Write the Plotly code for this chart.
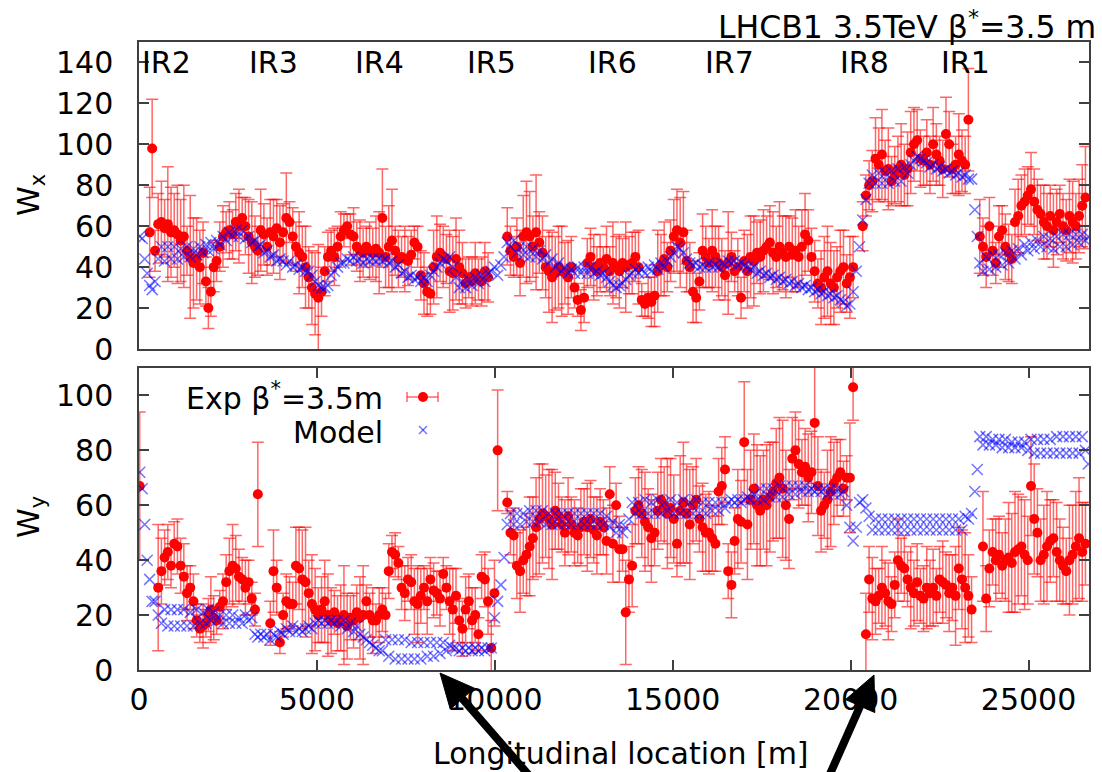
import plotly.graph_objects as go

# ---------------- data ----------------
s_pos = [
    20, 90, 160, 230, 300, 370, 450, 540, 630, 720,
    810, 900, 990, 1080, 1170, 1260, 1350, 1440, 1530, 1620,
    1710, 1800, 1880, 1950, 2020, 2100, 2180, 2270, 2360, 2450,
    2540, 2630, 2720, 2810, 2900, 2990, 3080, 3170, 3260, 3340,
    3420, 3510, 3600, 3690, 3780, 3870, 3960, 4050, 4140, 4230,
    4320, 4410, 4500, 4590, 4680, 4770, 4860, 4950, 5040, 5130,
    5220, 5310, 5400, 5490, 5580, 5670, 5760, 5850, 5940, 6030,
    6120, 6210, 6300, 6390, 6480, 6570, 6660, 6750, 6840, 6930,
    7020, 7110, 7200, 7290, 7380, 7470, 7560, 7650, 7740, 7830,
    7920, 8010, 8100, 8190, 8280, 8370, 8460, 8550, 8640, 8730,
    8820, 8910, 9000, 9090, 9180, 9270, 9360, 9450, 9540, 9630,
    9720, 9810, 9900, 9990, 10080, 10170, 10260, 10350, 10440, 10530,
    10620, 10710, 10800, 10890, 10980, 11070, 11160, 11250, 11340, 11430,
    11520, 11610, 11700, 11790, 11880, 11970, 12060, 12150, 12240, 12330,
    12420, 12510, 12600, 12690, 12780, 12870, 12960, 13050, 13140, 13230,
    13320, 13410, 13500, 13590, 13680, 13770, 13860, 13950, 14040, 14130,
    14220, 14310, 14400, 14490, 14580, 14670, 14760, 14850, 14940, 15030,
    15120, 15210, 15300, 15390, 15480, 15570, 15660, 15750, 15840, 15930,
    16020, 16110, 16200, 16290, 16380, 16470, 16560, 16650, 16740, 16830,
    16920, 17010, 17100, 17190, 17280, 17370, 17460, 17550, 17640, 17730,
    17820, 17910, 18000, 18090, 18180, 18270, 18360, 18450, 18540, 18630,
    18720, 18810, 18900, 18990, 19080, 19170, 19260, 19350, 19440, 19530,
    19620, 19710, 19800, 19890, 19980, 20070, 20160, 20250, 20340, 20430,
    20520, 20610, 20700, 20790, 20880, 20970, 21060, 21150, 21240, 21330,
    21420, 21510, 21600, 21690, 21780, 21870, 21960, 22050, 22140, 22230,
    22320, 22410, 22500, 22590, 22680, 22770, 22860, 22950, 23040, 23130,
    23220, 23310, 23400, 23490, 23560, 23630, 23720, 23810, 23900, 23990,
    24080, 24170, 24260, 24350, 24440, 24530, 24620, 24710, 24800, 24890,
    24980, 25070, 25160, 25250, 25340, 25430, 25520, 25610, 25700, 25790,
    25880, 25970, 26060, 26150, 26240, 26330, 26420, 26510, 26600, 26680,
]

N = None

model_wx = [
    55, 54, 44, 37, 31, 29, 33, 44, 50, 43,
    50, 44, 50, 44, 49, 45, 50, 45, 49, 46,
    50, 47, 51, 48, 52, 49, 53, 51, 55, 53,
    57, 55, 58, 55, 58, 54, 55, 52, 53, 50,
    51, 47, 48, 45, 46, 43, 44, 43, 41, 43,
    40, 41, 39, 40, 38, 38, 36, 33, 31, 30,
    30, 31, 36, 38, 40, 42, 42, 44, 43, 45,
    43, 44, 42, 44, 43, 44, 43, 44, 43, 44,
    42, 43, 40, 41, 37, 38, 35, 36, 34, 35,
    33, 35, 33, 36, 38, 40, 42, 44, 43, 45,
    40, 35, 30, 33, 30, 34, 31, 35, 32, 36,
    33, 37, 38, 40, 36, 41, 45, 52, 50, 53,
    47, 50, 46, 50, 45, 49, 45, 48, 44, 46,
    42, 44, 40, 42, 38, 40, 37, 39, 37, 40,
    37, 40, 37, 40, 37, 38, 36, 37, 35, 33,
    31, 30, 31, 32, 34, 36, 37, 39, 37, 39,
    37, 40, 38, 41, 39, 42, 40, 43, 45, 47,
    50, 49, 47, 44, 42, 41, 42, 40, 41, 40,
    42, 40, 41, 40, 42, 41, 43, 42, 43, 41,
    42, 41, 40, 39, 40, 37, 38, 36, 37, 35,
    36, 34, 35, 33, 34, 32, 33, 31, 32, 30,
    31, 29, 30, 28, 29, 27, 28, 26, 27, 25,
    26, 24, 23, 21, 22, 28, 38, 50, 63, 73,
    81, 85, 81, 86, 81, 86, 81, 87, 82, 88,
    82, 89, 86, 90, 92, 94, 93, 92, 91, 89,
    90, 88, 89, 87, 88, 86, 87, 85, 86, 84,
    85, 83, 83, 68, 55, 42, 38, 45, 39, 46,
    40, 46, 41, 47, 42, 48, 44, 49, 46, 51,
    48, 52, 49, 53, 50, 55, 50, 54, 49, 55,
    50, 56, 50, 56, 51, 56, 52, 56, 53, 55,
]

exp_wx = [
    N, N, N, N, 57, 98, 48, 61, 62, 59,
    61, 57, 58, 56, 53, 55, 48, 45, 42, 44,
    40, 47, 33, 20, 28, 40, 43, 50, 55, 57,
    58, 56, 62, 60, 64, 60, 55, 52, 50, 48,
    58, 56, 50, 57, 55, 59, 52, 57, 64, 62,
    55, 50, 47, 45, 40, 35, 30, 27, 25, 28,
    38, 45, 48, 45, 50, 55, 58, 60, 56, 55,
    50, 48, 47, 50, 48, 47, 49, 47, 64, 45,
    50, 53, 48, 44, 45, 44, 43, 46, 52, 50,
    36, 32, 28, 27, 40, 45, 47, 45, 44, 38,
    37, 44, 40, 37, 32, 35, 33, 37, 34, 33,
    38, 35, N, N, N, N, N, 55, 48, 45,
    50, 42, 55, 57, 55, 50, 57, 52, 47, 40,
    38, 35, 37, 40, 38, 37, 35, 40, 30, 24,
    19, 25, 42, 45, 40, 38, 42, 40, 44, 38,
    42, 40, 38, 42, 40, 41, 42, 45, 40, 24,
    22, 25, 23, 26, 38, 41, 44, 40, 48, 55,
    58, 52, 57, 43, 40, 28, 25, 33, 48, 45,
    42, 48, 45, 42, 40, 36, 42, 45, 38, 40,
    25, 43, 38, 45, 43, 47, 45, 48, 50, 52,
    47, 45, 50, 47, 45, 50, 46, 48, 45, 50,
    56, 53, 45, 38, 32, 30, 35, 38, 32, 30,
    35, 38, 40, 32, 35, 40, N, N, 60, 75,
    80, 82, 93, 90, 95, 87, 88, 82, 85, 88,
    90, 85, 88, 96, 100, 102, 93, 92, 96, 90,
    100, 95, 92, 88, 105, 100, 88, 90, 95, 92,
    90, 112, N, N, N, 55, 50, 45, 60, 48,
    42, 55, 58, 50, 47, 44, 62, 65, 70, 72,
    75, 78, 72, 68, 66, 62, 60, 65, 58, 62,
    66, 60, 58, 65, 62, 60, 65, 70, 74, N,
]

exp_wx_err = [
    N, N, N, N, 22, 24, 10, 15, 20, 14,
    28, 22, 18, 24, 20, 25, 12, 30, 22, 20,
    18, 15, 12, 10, 12, 12, 10, 12, 15, 10,
    14, 12, 14, 18, 10, 14, 18, 20, 15, 12,
    20, 15, 14, 16, 18, 14, 18, 14, 22, 10,
    14, 12, 20, 15, 20, 15, 18, 20, 26, 12,
    12, 12, 10, 14, 10, 12, 8, 6, 10, 14,
    12, 15, 12, 10, 14, 12, 16, 20, 24, 15,
    20, 25, 12, 14, 10, 16, 12, 12, 8, 10,
    12, 15, 12, 10, 18, 20, 14, 15, 12, 20,
    18, 20, 18, 15, 12, 10, 12, 15, 10, 12,
    14, 12, N, N, N, N, N, 14, 12, 10,
    14, 16, 20, 25, 22, 15, 28, 15, 18, 15,
    20, 22, 18, 20, 22, 15, 18, 15, 10, 8,
    10, 12, 12, 14, 16, 12, 14, 10, 16, 12,
    20, 15, 18, 12, 22, 14, 15, 12, 18, 8,
    6, 10, 12, 15, 20, 15, 18, 12, 15, 18,
    20, 22, 20, 15, 12, 15, 12, 14, 18, 15,
    12, 20, 15, 18, 14, 12, 25, 12, 10, 14,
    10, 15, 18, 20, 22, 15, 18, 20, 15, 18,
    20, 15, 22, 18, 20, 15, 18, 20, 15, 18,
    20, 15, 14, 15, 12, 18, 20, 22, 20, 18,
    15, 20, 18, 14, 20, 15, N, N, 12, 10,
    12, 15, 20, 18, 22, 15, 20, 12, 14, 16,
    20, 15, 18, 20, 18, 15, 14, 12, 16, 14,
    18, 15, 12, 14, 18, 16, 12, 14, 20, 15,
    14, 25, N, N, N, 18, 14, 15, 14, 12,
    10, 15, 12, 16, 14, 12, 16, 18, 15, 16,
    14, 18, 16, 15, 14, 18, 16, 15, 18, 16,
    14, 16, 15, 18, 20, 16, 18, 20, 25, N,
]

model_wy = [
    72, 66, 53, 40, 33, 25, 25, 20, 17, 22,
    16, 22, 16, 22, 16, 22, 16, 21, 16, 22,
    17, 21, 17, 22, 18, 21, 18, 20, 17, 20,
    17, 20, 17, 19, 17, 20, 18, 19, 13, 12,
    13, 12, 13, 11, 13, 12, 14, 13, 15, 14,
    16, 14, 15, 14, 15, 16, 15, 17, 18, 17,
    18, 17, 18, 17, 18, 16, 18, 15, 17, 14,
    16, 13, 12, 11, 10, 9, 8, 7, 7, 11,
    5, 11, 4, 11, 4, 11, 4, 10, 4, 10,
    4, 10, 5, 10, 5, 10, 6, 10, 7, 9,
    8, 8, 7, 8, 7, 8, 7, 8, 7, 8,
    7, 8, 8, 19, 25, 31, 41, 53, 57, 53,
    57, 53, 57, 54, 58, 54, 58, 54, 58, 53,
    57, 53, 57, 53, 57, 53, 57, 53, 57, 53,
    57, 53, 57, 53, 57, 53, 57, 53, 56, 52,
    54, 50, 53, 50, 52, 55, 61, 57, 61, 57,
    62, 57, 61, 57, 62, 57, 61, 58, 62, 57,
    61, 57, 62, 57, 61, 57, 62, 57, 61, 57,
    61, 58, 61, 58, 61, 59, 61, 62, 61, 62,
    61, 62, 63, 62, 64, 62, 66, 62, 66, 63,
    66, 63, 67, 63, 67, 64, 67, 64, 67, 65,
    67, 65, 66, 65, 66, 65, 66, 64, 66, 64,
    66, 64, 65, 60, 52, 47, 52, 61, 62, 59,
    56, 51, 55, 51, 55, 51, 55, 51, 55, 51,
    55, 51, 55, 51, 55, 51, 55, 51, 55, 51,
    55, 51, 55, 51, 55, 51, 55, 51, 55, 51,
    56, 55, 57, 65, 73, 85, 82, 85, 82, 84,
    82, 84, 81, 84, 81, 83, 81, 83, 81, 83,
    80, 84, 79, 84, 79, 84, 79, 84, 79, 85,
    79, 85, 79, 85, 79, 85, 79, 85, 80, 75,
]

exp_wy = [
    67, N, N, N, N, N, N, 30, 36, 41,
    43, 38, 46, 45, 38, 34, 28, 30, 25, 18,
    15, 16, 17, 20, 22, 19, 18, 23, 25, 32,
    36, 38, 37, 34, 33, 30, 32, 26, 22, 64,
    N, N, N, 17, 36, 30, 10, 20, 25, 24,
    24, 38, 37, 33, 32, 28, 24, 22, 20, 22,
    25, 20, 18, 21, 17, 19, 20, 16, 19, 18,
    21, 19, 20, 25, 20, 18, 18, 20, 22, 20,
    36, 43, 42, 39, 30, 28, 33, 32, 25, 24,
    27, 30, 25, 33, 29, 28, 26, 35, 30, 25,
    22, 27, 18, 15, 22, 25, 18, 20, 13, 34,
    33, 25, 8, 28, 80, N, N, 61, 50, 49,
    38, 36, 40, 42, 45, 48, 52, 55, 57, 56,
    55, 53, 58, 56, 53, 50, 56, 53, 50, 49,
    52, 54, 52, 55, 51, 49, 54, 52, 47, 64,
    46, 60, 44, 44, 21, 33, 38, 58, 60, 57,
    54, 52, 48, 50, 58, 62, 60, 57, 59, 55,
    46, 58, 61, 57, 53, 60, 62, 55, 52, 50,
    50, 48, 46, 65, 67, 73, 36, 31, 47, 55,
    54, 83, 53, 62, 66, 60, 58, 62, 60, 63,
    65, 68, 70, 66, 60, 55, 77, 80, 75, 72,
    74, 70, 72, 90, 67, 58, 60, 62, 65, 68,
    70, 72, 66, 70, 70, 103, N, N, N, 13,
    33, 26, 25, 27, 30, 28, 25, 24, 31, 40,
    38, 37, 33, 30, 28, 32, 27, 26, 30, 28,
    30, 27, 33, 32, 31, 28, 30, 27, 37, 33,
    30, 27, 22, N, N, N, 45, 26, 37, 43,
    40, 42, 38, 40, 41, 39, 43, 44, 45, 42,
    40, 67, 55, 50, 40, 42, 45, 47, 48, 43,
    40, 38, 36, 40, 42, 45, 48, 43, 46, N,
]

exp_wy_err = [
    27, N, N, N, N, N, N, 23, 12, 10,
    10, 8, 8, 10, 10, 12, 10, 8, 10, 6,
    5, 8, 5, 6, 12, 8, 5, 6, 10, 10,
    12, 15, 12, 10, 8, 10, 8, 6, 6, 19,
    N, N, N, 8, 15, 10, 4, 8, 10, 10,
    8, 14, 15, 18, 20, 12, 18, 15, 10, 12,
    15, 15, 12, 8, 10, 12, 18, 12, 8, 10,
    10, 15, 18, 6, 8, 12, 6, 10, 8, 8,
    10, 6, 8, 6, 8, 10, 8, 10, 12, 14,
    10, 8, 12, 8, 10, 8, 10, 6, 8, 12,
    15, 10, 8, 10, 12, 10, 12, 10, 6, 8,
    10, 12, 10, 12, 22, N, N, 4, 8, 10,
    12, 15, 12, 15, 18, 15, 18, 20, 18, 15,
    18, 20, 14, 12, 10, 12, 14, 10, 12, 10,
    14, 12, 16, 14, 12, 14, 12, 10, 12, 10,
    14, 8, 12, 8, 19, 12, 15, 12, 14, 16,
    18, 14, 16, 12, 14, 15, 14, 20, 18, 16,
    12, 20, 22, 18, 20, 14, 15, 12, 16, 14,
    15, 12, 10, 12, 14, 12, 10, 12, 12, 18,
    15, 22, 20, 18, 20, 22, 20, 18, 22, 20,
    18, 20, 22, 25, 20, 18, 15, 14, 16, 12,
    14, 16, 15, 22, 18, 15, 12, 18, 20, 15,
    14, 12, 10, 8, 20, 12, N, N, N, 15,
    12, 15, 12, 10, 15, 12, 14, 10, 12, 15,
    10, 12, 10, 15, 12, 14, 10, 12, 15, 12,
    14, 10, 12, 15, 12, 14, 12, 18, 15, 18,
    20, 15, 12, N, N, N, 20, 12, 14, 12,
    15, 14, 12, 15, 20, 18, 22, 20, 18, 20,
    16, 18, 20, 16, 15, 18, 20, 15, 14, 18,
    15, 14, 12, 20, 18, 20, 22, 18, 15, N,
]

ir_names = ["IR2", "IR3", "IR4", "IR5", "IR6", "IR7", "IR8", "IR1"]
ir_pos = [760, 3780, 6770, 9920, 13320, 16610, 20400, 23240]
ir_label_y = 140

x_ticks = [0, 5000, 10000, 15000, 20000, 25000]
x_tick_text = ["0", "5000", "10000", "15000", "20000", "25000"]
wx_ticks = [0, 20, 40, 60, 80, 100, 120, 140]
wy_ticks = [0, 20, 40, 60, 80, 100]

title_text = "LHCB1 3.5TeV β<sup>*</sup>=3.5 m"
exp_name = "Exp β<sup>*</sup>=3.5m"
model_name = "Model"

# ---------------- styling ----------------
FONT = "DejaVu Sans"
FS = 30
RED = "#ff0000"
ERR = "rgba(255,0,0,0.6)"
BLUE = "rgba(0,0,255,0.55)"
FRAME = "#404040"

W, H = 1102, 772
L, R, T, B = 139, 13, 42, 102
PW, PH = W - L - R, H - T - B


def px_x(p):
    return (p - L) / PW


def px_y(p):
    return (H - B - p) / PH


fig = go.Figure()

panels = [("x", "y", exp_wx, exp_wx_err, model_wx),
          ("x2", "y2", exp_wy, exp_wy_err, model_wy)]
for xa, ya, ev, ee, mv in panels:
    fig.add_trace(go.Scatter(
        x=s_pos, y=ev, mode="markers", xaxis=xa, yaxis=ya, showlegend=False,
        marker=dict(symbol="circle", size=10, color=RED, line=dict(width=0)),
        error_y=dict(type="data", array=ee, visible=True, color=ERR,
                     thickness=1.5, width=6),
    ))
    fig.add_trace(go.Scatter(
        x=s_pos, y=mv, mode="markers", xaxis=xa, yaxis=ya, showlegend=False,
        marker=dict(symbol="x-thin", size=11, color=BLUE,
                    line=dict(width=1.5, color=BLUE)),
    ))

tickfont = dict(family=FONT, size=FS, color="black")
base = dict(showgrid=False, zeroline=False, showline=True, linecolor=FRAME,
            linewidth=1.5, tickcolor=FRAME, tickwidth=1.5, ticklen=10,
            tickfont=tickfont)

top_bottom = px_y(349)
bot_top = px_y(368)

fig.update_layout(
    width=W, height=H,
    margin=dict(l=L, r=R, t=T, b=B),
    paper_bgcolor="white", plot_bgcolor="white",
    font=dict(family=FONT, size=FS, color="black"),
    xaxis=dict(base, domain=[0, 1], range=[0, 26700], anchor="y",
               showticklabels=False, ticks="", mirror=True),
    yaxis=dict(base, domain=[top_bottom, 1], range=[0, 150], anchor="x",
               tickvals=wx_ticks, ticks="inside", mirror="ticks",
               ticklabelstandoff=18),
    xaxis2=dict(base, domain=[0, 1], range=[0, 26700], anchor="y2",
                tickvals=x_ticks, ticktext=x_tick_text, ticks="inside",
                mirror="ticks", ticklabelstandoff=2),
    yaxis2=dict(base, domain=[0, bot_top], range=[0, 110], anchor="x2",
                tickvals=wy_ticks, ticks="inside", mirror="ticks",
                ticklabelstandoff=18),
)

ann = []
for name, pos in zip(ir_names, ir_pos):
    ann.append(dict(x=pos, y=ir_label_y, xref="x", yref="y", text=name,
                    showarrow=False, xanchor="center", yanchor="middle",
                    font=dict(family=FONT, size=FS, color="black")))

ann.append(dict(x=px_x(1098), y=px_y(25), xref="paper", yref="paper",
                text=title_text, showarrow=False, xanchor="right",
                yanchor="middle", font=dict(family=FONT, size=31.5)))
ann.append(dict(x=px_x(30), y=px_y(195), xref="paper", yref="paper",
                text="W<sub>x</sub>", showarrow=False, textangle=-90,
                xanchor="center", yanchor="middle",
                font=dict(family=FONT, size=FS)))
ann.append(dict(x=px_x(30), y=px_y(517), xref="paper", yref="paper",
                text="W<sub>y</sub>", showarrow=False, textangle=-90,
                xanchor="center", yanchor="middle",
                font=dict(family=FONT, size=FS)))
ann.append(dict(x=px_x(621), y=px_y(753), xref="paper", yref="paper",
                text="Longitudinal location [m]", showarrow=False,
                xanchor="center", yanchor="middle",
                font=dict(family=FONT, size=FS)))
# legend texts
ann.append(dict(x=px_x(385), y=px_y(396), xref="paper", yref="paper",
                text=exp_name, showarrow=False, xanchor="right",
                yanchor="middle", font=dict(family=FONT, size=FS)))
ann.append(dict(x=px_x(385), y=px_y(432), xref="paper", yref="paper",
                text=model_name, showarrow=False, xanchor="right",
                yanchor="middle", font=dict(family=FONT, size=FS)))
fig.update_layout(annotations=ann)

# legend keys (layout decoration)
lx0, lx1, lxc, ly = px_x(407), px_x(438), px_x(423), px_y(397)
dy5 = 5 / PH
dx5 = 5 / PW
shapes = [
    dict(type="line", xref="paper", yref="paper", x0=lx0, x1=lx1, y0=ly, y1=ly,
         line=dict(color=ERR, width=1.5)),
    dict(type="line", xref="paper", yref="paper", x0=lx0, x1=lx0, y0=ly - dy5,
         y1=ly + dy5, line=dict(color=ERR, width=1.5)),
    dict(type="line", xref="paper", yref="paper", x0=lx1, x1=lx1, y0=ly - dy5,
         y1=ly + dy5, line=dict(color=ERR, width=1.5)),
    dict(type="circle", xref="paper", yref="paper", x0=lxc - dx5, x1=lxc + dx5,
         y0=ly - dy5, y1=ly + dy5, fillcolor=RED, line=dict(width=0)),
]
my_ = px_y(430)
dx4, dy4 = 4 / PW, 4 / PH
shapes += [
    dict(type="line", xref="paper", yref="paper", x0=lxc - dx4, x1=lxc + dx4,
         y0=my_ - dy4, y1=my_ + dy4, line=dict(color=BLUE, width=1.5)),
    dict(type="line", xref="paper", yref="paper", x0=lxc - dx4, x1=lxc + dx4,
         y0=my_ + dy4, y1=my_ - dy4, line=dict(color=BLUE, width=1.5)),
]


# black pointer arrows (decoration): shaft + triangular head, in pixels
def arrow(tip, tail, head_len=34, head_half=16, width=8):
    tx, ty = tip
    ux, uy = tail[0] - tx, tail[1] - ty
    n = (ux * ux + uy * uy) ** 0.5
    ux, uy = ux / n, uy / n
    bx, by = tx + head_len * ux, ty + head_len * uy
    px_, py_ = -uy, ux
    c1 = (bx + head_half * px_, by + head_half * py_)
    c2 = (bx - head_half * px_, by - head_half * py_)
    path = "M {} {} L {} {} L {} {} Z".format(
        px_x(tx), px_y(ty), px_x(c1[0]), px_y(c1[1]), px_x(c2[0]), px_y(c2[1]))
    return [
        dict(type="line", xref="paper", yref="paper",
             x0=px_x(bx - 2 * ux), y0=px_y(by - 2 * uy),
             x1=px_x(tail[0]), y1=px_y(tail[1]),
             line=dict(color="black", width=width)),
        dict(type="path", xref="paper", yref="paper", path=path,
             fillcolor="black", line=dict(color="black", width=1)),
    ]


shapes += arrow((440, 673), (560, 811))
shapes += arrow((874, 675), (814, 810))
fig.update_layout(shapes=shapes)

fig.write_html("out.html")
